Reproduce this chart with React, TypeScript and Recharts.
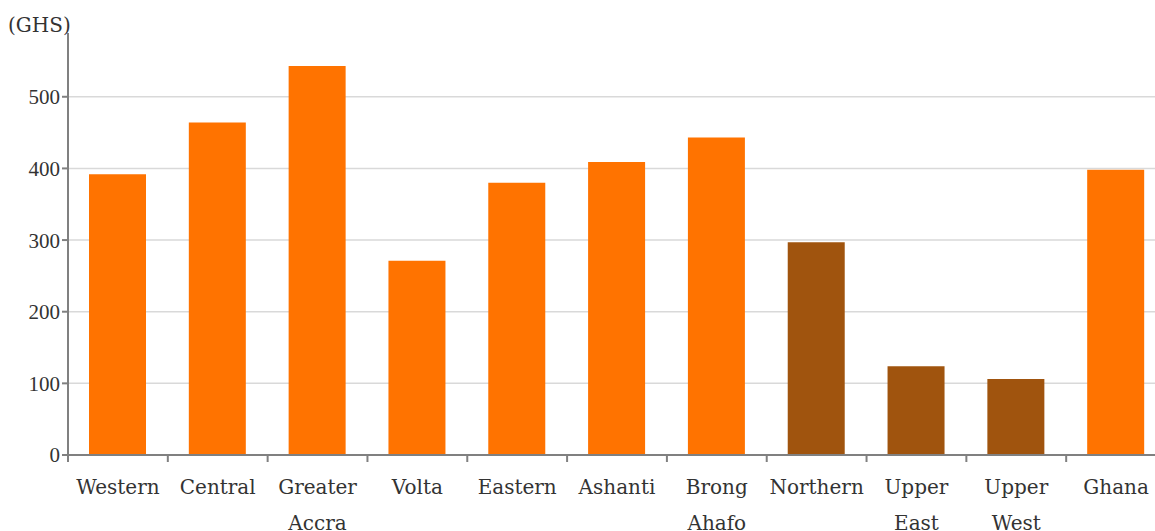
import React from 'react';
import { BarChart, Bar, XAxis, YAxis, CartesianGrid, Cell } from 'recharts';

const regions = ['Western', 'Central', 'Greater Accra', 'Volta', 'Eastern', 'Ashanti', 'Brong Ahafo', 'Northern', 'Upper East', 'Upper West', 'Ghana'];
const income = [392, 464, 543, 271, 380, 409, 443, 297, 124, 106, 398];
const isNorth = [false, false, false, false, false, false, false, true, true, true, false];
const yTicks = [0, 100, 200, 300, 400, 500];

const ORANGE = '#ff7300';
const BROWN = '#a0540e';
const AXIS = '#808080';
const FONT = '"DejaVu Serif", serif';

const CHART_W = 1166;
const Y_W = 68;
const HALF_BAND = (CHART_W - Y_W) / regions.length / 2;

const data = regions.map((name, i) => ({ name, value: income[i], north: isNorth[i] }));

// label split on spaces, tick mark drawn at the left edge of each band
function RegionTick(props: any) {
  const { x, y, payload } = props;
  const words = String(payload.value).split(' ');
  const axisY = y - 8;
  return (
    <g>
      <line x1={x - HALF_BAND} x2={x - HALF_BAND} y1={axisY} y2={axisY + 7} stroke={AXIS} strokeWidth={2} />
      <text x={x} y={axisY} textAnchor="middle" fill="#333" fontSize={20} fontFamily={FONT}>
        {words.map((w: string, i: number) => (
          <tspan key={i} x={x} dy={i === 0 ? 39 : 36}>{w}</tspan>
        ))}
      </text>
    </g>
  );
}

export default function App() {
  return (
    <div style={{ position: 'absolute', left: 0, top: 0, width: 1155, height: 531, overflow: 'hidden', background: '#fff' }}>
      <div style={{ position: 'absolute', left: 8, top: 11, fontFamily: FONT, fontSize: 20, color: '#333', lineHeight: '28px' }}>(GHS)</div>
      <BarChart width={CHART_W} height={531} data={data} margin={{ top: 33, right: 0, bottom: 0, left: 0 }}>
        <CartesianGrid vertical={false} horizontalValues={[100, 200, 300, 400, 500]} stroke="#d9d9d9" strokeWidth={1.5} />
        <XAxis
          dataKey="name"
          interval={0}
          height={76}
          stroke={AXIS}
          strokeWidth={2}
          tickLine={false}
          tick={<RegionTick />}
        />
        <YAxis
          domain={[0, 589]}
          ticks={yTicks}
          width={Y_W}
          stroke={AXIS}
          strokeWidth={2}
          tickLine={{ stroke: AXIS }}
          tick={{ fill: '#333', fontSize: 21, fontFamily: '"Liberation Serif", serif' }}
        />
        <Bar dataKey="value" barSize={57} isAnimationActive={false}>
          {data.map((d, i) => (
            <Cell key={i} fill={d.north ? BROWN : ORANGE} />
          ))}
        </Bar>
      </BarChart>
    </div>
  );
}
